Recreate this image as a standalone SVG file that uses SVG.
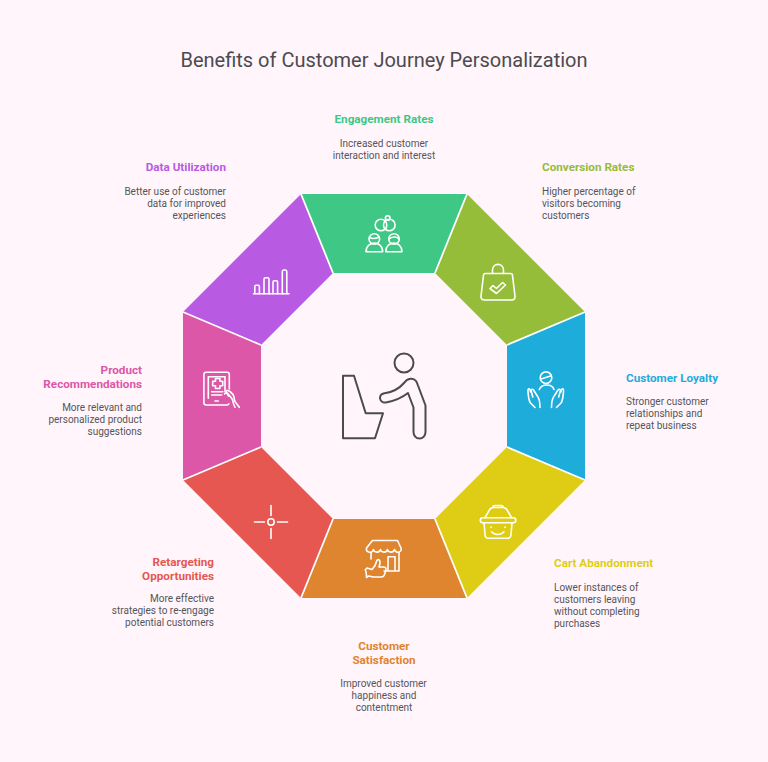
<svg xmlns="http://www.w3.org/2000/svg" width="768" height="762" viewBox="0 0 768 762">
<style>
text{font-family:Roboto,"Liberation Sans",sans-serif}
.t{font-size:20px;fill:#4b4b4f;text-anchor:middle}
.h{font-size:11.7px;font-weight:700}
.d{font-size:10px;fill:#55555a}
.m{text-anchor:middle}.e{text-anchor:end}
.i{fill:none;stroke:#fff;stroke-width:1.6;stroke-linecap:round;stroke-linejoin:round}
.sep{stroke:#fff;stroke-width:1.8;fill:none}
</style>
<rect width="768" height="762" fill="#fff5fb"/>
<text class="t" x="384" y="67">Benefits of Customer Journey Personalization</text>

<g id="engagement">
<polygon points="301,194 467,194 435,273 333,273" fill="#3ec785"/>
<g class="i"><circle cx="381" cy="225" r="5.800"/><circle cx="389.300" cy="225" r="5.800"/><circle cx="387.700" cy="218" r="2.300"/>
<circle cx="374.300" cy="239" r="5.300"/><path d="M369.500 237.500c3 1.500 6 1.500 9.500-.5M366 251.700c0-11.500 16.700-11.500 16.700 0z"/>
<circle cx="394" cy="239" r="5.300"/><path d="M389 239c2-2.500 8-3 10 0M385.700 251.700c0-11.500 16.300-11.500 16.300 0z"/></g>
<text class="h m" x="384" y="122.500" fill="#3ec785">Engagement Rates</text>
<text class="d m" x="384" y="147">Increased customer</text><text class="d m" x="384" y="159">interaction and interest</text>
</g>

<g id="conversion">
<polygon points="467,194 585,312 507,345 435,273" fill="#95bd39"/>
<g class="i"><path d="M485 273.500h26c.8 0 1.200.5 1.400 1.200l2.600 21.300c.2 2.500-1 4-3.500 4h-27c-2.500 0-3.700-1.500-3.500-4l2.600-21.300c.2-.7.600-1.200 1.400-1.200z"/>
<path d="M492.500 273.500v-3.500c0-7.500 11-7.500 11 0v3.500"/>
<path d="M490 288.500l3-3 3.500 3 6-6 3 2.500-9 8.500z"/></g>
<text class="h" x="542" y="171" fill="#95bd39">Conversion Rates</text>
<text class="d" x="542" y="195">Higher percentage of</text><text class="d" x="542" y="207">visitors becoming</text><text class="d" x="542" y="219">customers</text>
</g>

<g id="loyalty">
<polygon points="585,312 585,480 507,447 507,345" fill="#1eacdb"/>
<g class="i"><circle cx="546" cy="377.700" r="5.800"/><path d="M541 379l9.500-3M539.300 389.500c2.500-6 12.500-6 14.700 0"/>
<path d="M540 407.500c0-6-.5-9-3-12l-3.500-5.500c-1.200-1.500-2.800-.5-2.200 1.500l1.500 5.500M530.500 392c0-4-3-4.500-2.500-.5.300 5 .5 8.500 2.500 11.500l4.500 4.500"/>
<path d="M551.500 407.500c0-6 .5-9 3-12l3.500-5.500c1.200-1.500 2.800-.5 2.200 1.500l-1.500 5.500M561 392c0-4 3-4.500 2.500-.5-.3 5-.5 8.500-2.500 11.500l-4.500 4.500"/></g>
<text class="h" x="626" y="381.500" fill="#1eacdb">Customer Loyalty</text>
<text class="d" x="626" y="405">Stronger customer</text><text class="d" x="626" y="417">relationships and</text><text class="d" x="626" y="429">repeat business</text>
</g>

<g id="cart">
<polygon points="585,480 467,598 435,519 507,447" fill="#dfcd15"/>
<g class="i"><rect x="480.300" y="517.700" width="35.500" height="5" rx="2.500"/>
<path d="M485 517.700l4-7c1-2 2.500-3.200 4.500-3.200h9.500c2 0 3.500 1.200 4.500 3.200l4 7M493 507c0-1.500 1-1.500 2-1.500h6c1.500 0 2 .5 2 1.500"/>
<path d="M484 522.700l1 12c.2 2.500 1.500 3.600 3.500 3.600h19c2 0 3.300-1.100 3.500-3.600l1-12"/>
<path d="M491 527v.5M505 527v.5M491.500 531.800c3 3.500 9.500 3.500 12.500 0"/></g>
<text class="h" x="554" y="566.500" fill="#dfcd15">Cart Abandonment</text>
<text class="d" x="554" y="591">Lower instances of</text><text class="d" x="554" y="603">customers leaving</text><text class="d" x="554" y="615">without completing</text><text class="d" x="554" y="627">purchases</text>
</g>

<g id="satisfaction">
<polygon points="467,598 301,598 333,519 435,519" fill="#df842f"/>
<g class="i"><path d="M372.500 540.500h25l3.500 7.500c.8 2-.5 3.500-2 4-2 .7-4-.5-4.500-2.500-.8 3.500-6.500 3.500-7 0-.8 3.500-6.500 3.500-7 0-.8 3.500-6.500 3.500-7 0-.5 2.500-3 3.200-5 2.500-1.500-.5-2.500-2-2-4z"/>
<path d="M371 552.500v6.500M399 552.500v18.500h-15M388 571v-14.300h7v14.300"/>
<path d="M367 568l5 1.500c2-2 4-5 4.500-8 .5-2.500 3-2.500 3.500 0 .3 2-.5 4-1 5.500h4.500c2 0 3 1.500 2.500 3l-1.500 4.500c-.5 1.500-1.500 2.500-3 2.500h-8c-2 0-3-1-5-1l-2 1.500-.3-5-1-2.500z"/></g>
<text class="h m" x="384" y="650" fill="#df842f">Customer</text><text class="h m" x="384" y="664" fill="#df842f">Satisfaction</text>
<text class="d m" x="383.500" y="687">Improved customer</text><text class="d m" x="384" y="699">happiness and</text><text class="d m" x="384" y="711">contentment</text>
</g>

<g id="retargeting">
<polygon points="301,598 183,480 261,447 333,519" fill="#e65751"/>
<g class="i"><circle cx="271" cy="522" r="3.200"/><path d="M271 505.500v10M271 528.500v10M254.500 522h10M277.500 522h10"/></g>
<text class="h e" x="214" y="565.500" fill="#e65751">Retargeting</text><text class="h e" x="214" y="579.500" fill="#e65751">Opportunities</text>
<text class="d e" x="214" y="602">More effective</text><text class="d e" x="214" y="614">strategies to re-engage</text><text class="d e" x="214" y="626">potential customers</text>
</g>

<g id="recommendations">
<polygon points="183,480 183,312 261,345 261,447" fill="#dd57a8"/>
<g class="i"><path d="M229.300 389v-14.500c0-1.400-.8-2.200-2.200-2.200h-21c-1.400 0-2.200.8-2.200 2.200v28.300c0 1.400.8 2.200 2.200 2.200h21c.8 0 1.500-.5 1.800-1.200"/>
<path d="M208.300 398.300v-21.600h16.700v15"/>
<path d="M215.500 378.500h4.400v2.800h2.800v4.400h-2.800v2.800h-4.400v-2.800h-2.800v-4.400h2.800z"/>
<path d="M211.700 391.700h11M211.700 395h10M215 401h3.300"/>
<path d="M239.300 407.300l-4-5.300c-1-1.500-1-3-1.300-5-.5-2-2-4-4-5.500l-2.500-1c-1-.3-1.500.5-1.200 1.300l2 4.200M224.500 394c1-1.500 2.500-1.500 3.500-.3l4 5c1 1.500 1 3 1.300 4.500l1.700 4"/></g>
<text class="h e" x="142" y="374" fill="#dd57a8">Product</text><text class="h e" x="142" y="388" fill="#dd57a8">Recommendations</text>
<text class="d e" x="142" y="411">More relevant and</text><text class="d e" x="142" y="423">personalized product</text><text class="d e" x="142" y="435">suggestions</text>
</g>

<g id="data">
<polygon points="183,312 301,194 333,273 261,345" fill="#b85be2"/>
<g class="i"><path d="M253.500 293.700h35.500"/><path d="M254.800 293.700v-7c0-1 .5-1.500 1.200-1.500h2.200c.7 0 1.200.5 1.200 1.500v7"/><path d="M264 293.700v-14.500c0-1 .7-1.500 1.500-1.500h2c.8 0 1.500.5 1.500 1.500v14.500"/><path d="M273 293.700v-11.500c0-1 .5-1.500 1.200-1.500h2.200c.7 0 1.200.5 1.200 1.500v11.500"/><path d="M282.300 293.700v-22c0-1 .5-1.700 1.200-1.700h2c.8 0 1.300.7 1.300 1.700v22"/></g>
<text class="h e" x="226" y="171" fill="#b85be2">Data Utilization</text>
<text class="d e" x="226" y="195">Better use of customer</text><text class="d e" x="226" y="207">data for improved</text><text class="d e" x="226" y="219">experiences</text>
</g>

<g id="separators">
<path class="sep" d="M301 194L333 273M467 194L435 273M585 312L507 345M585 480L507 447M467 598L435 519M301 598L333 519M183 480L261 447M183 312L261 345"/>
</g>

<g id="center" fill="none" stroke="#4b4b4f" stroke-width="2" stroke-linejoin="round">
<path d="M343 375.700h11l11.700 37.600h17.300l-8 25h-32z"/>
<circle cx="404" cy="363" r="9.500"/>
<path d="M383.500 393.500c9-1 15-4 21-11 3-4.500 9-5 11.500-1.500 1 1.500 1.500 3 2 4.500l7.500 20v26.500c0 3.500-2.500 6.500-6 6.500s-6-3-6-6.500v-24.500l-5.500-14.500c-7 5.500-14 8-22 9.500-3.500.5-6-1.800-6-4.500 0-2.500 1.500-4 2.500-4z"/>
</g>
</svg>
